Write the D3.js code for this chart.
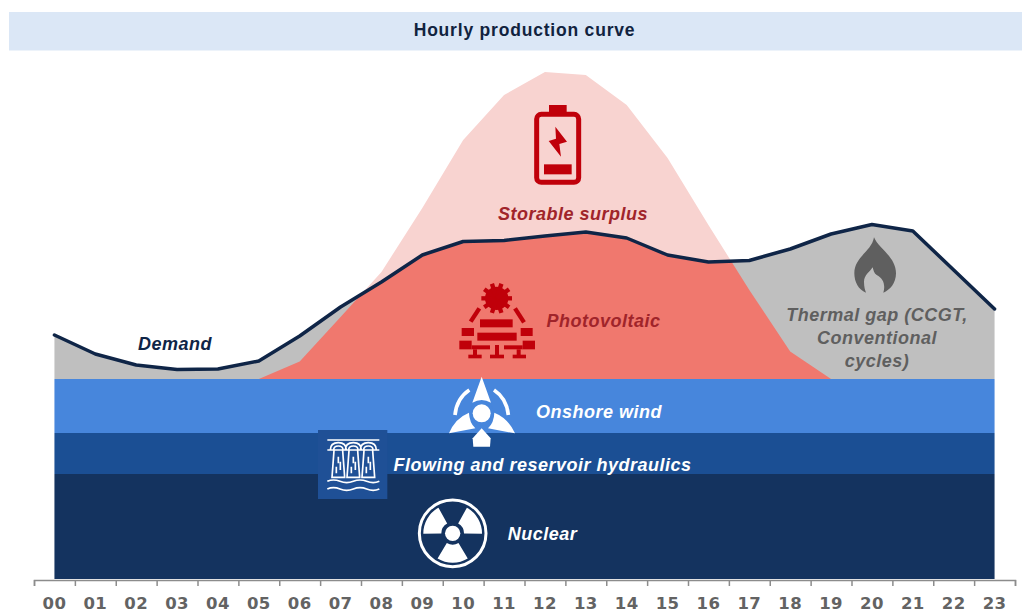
<!DOCTYPE html>
<html>
<head>
<meta charset="utf-8">
<title>Hourly production curve</title>
<script src="https://cdn.jsdelivr.net/npm/d3@7"></script>
<style>
  html, body { margin: 0; padding: 0; background: #fff; }
  svg { display: block; }
  text { font-family: "Liberation Sans", Arial, sans-serif; }
  .label { font-weight: bold; font-style: italic; font-size: 18px; letter-spacing: .5px; }
  .x-labels text { font-family: "DejaVu Sans", sans-serif; font-weight: bold; font-size: 16.5px; fill: #636363; letter-spacing: .4px; }
  .x-labels path, .x-labels line { display: none; }
  .x-ticks path, .x-ticks line { stroke: #8c8c8c; stroke-width: 1.5px; }
</style>
</head>
<body>
<div id="chart"></div>
<script>
// hours on the axis
var hours = ["00","01","02","03","04","05","06","07","08","09","10","11",
             "12","13","14","15","16","17","18","19","20","21","22","23"];

// flat baseload bands (GW)
var nuclear = 10.5;
var hydro = 4.1;
var wind = 5.4;

// hourly demand (GW)
var demand = [24.4, 22.5, 21.4, 20.95, 21.0, 21.8, 24.3, 27.2, 29.7, 32.4, 33.75, 33.85,
              34.3, 34.7, 34.1, 32.4, 31.7, 31.85, 33.0, 34.5, 35.45, 34.8, 30.9, 27.0];

// hourly photovoltaic production, on top of the bands (GW)
var solar = [0, 0, 0, 0, 0, 0, 1.75, 6.2, 10.7, 17.1, 23.9, 28.4,
             30.7, 30.4, 27.4, 22.1, 15.4, 8.9, 2.75, 0, 0, 0, 0, 0];

var width = 1022, height = 613;

var svg = d3.select("#chart").append("svg")
    .attr("width", width)
    .attr("height", height);

// Scales
var x = d3.scaleBand().domain(hours).range([34, 1015]);
var edges = d3.scaleLinear().domain([0, 24]).range([34, 1015]);
var y = d3.scaleLinear().domain([0, 51]).range([579, 69]);

function cx(h) { return x(h) + x.bandwidth() / 2; }

var base = nuclear + hydro + wind;

// Header
svg.append("rect")
    .attr("x", 9).attr("y", 12)
    .attr("width", 1013).attr("height", 38.5)
    .attr("fill", "#dbe7f6");

svg.append("text")
    .attr("x", 524.5).attr("y", 36)
    .attr("text-anchor", "middle")
    .attr("font-weight", "bold")
    .attr("font-size", "17.5px")
    .attr("letter-spacing", ".8px")
    .attr("fill", "#11233f")
    .text("Hourly production curve");

// Demand and solar shapes
var demandArea = d3.area()
    .x(function(d, i) { return cx(hours[i]); })
    .y0(y(base))
    .y1(function(d) { return y(d); });

var solarArea = d3.area()
    .x(function(d, i) { return cx(hours[i]); })
    .y0(y(base))
    .y1(function(d) { return y(base + d); });

var demandLine = d3.line()
    .x(function(d, i) { return cx(hours[i]); })
    .y(function(d) { return y(d); });

// red part is solar cut off at the demand curve
svg.append("defs").append("clipPath")
    .attr("id", "clip-demand")
    .append("path")
    .attr("d", demandArea(demand));

svg.append("path").attr("d", solarArea(solar)).attr("fill", "#f8d3d0");
svg.append("path").attr("d", demandArea(demand)).attr("fill", "#bfbfbf");
svg.append("path").attr("d", solarArea(solar)).attr("fill", "#f0786e")
    .attr("clip-path", "url(#clip-demand)");

// Baseload bands
var bands = [
    { from: base - wind, to: base, color: "#4786dc" },
    { from: nuclear, to: nuclear + hydro, color: "#1b4f94" },
    { from: 0, to: nuclear, color: "#14335f" }
];

svg.selectAll(".band")
    .data(bands)
    .enter().append("rect")
    .attr("class", "band")
    .attr("x", cx(hours[0]))
    .attr("width", cx(hours[23]) - cx(hours[0]))
    .attr("y", function(d) { return y(d.to); })
    .attr("height", function(d) { return y(d.from) - y(d.to); })
    .attr("fill", function(d) { return d.color; });

svg.append("path")
    .attr("d", demandLine(demand))
    .attr("fill", "none")
    .attr("stroke", "#0f2547")
    .attr("stroke-width", 3.5)
    .attr("stroke-linejoin", "round")
    .attr("stroke-linecap", "round");

// Axes: ticks sit between the hours, labels in the middle
svg.append("g")
    .attr("class", "x-ticks")
    .attr("transform", "translate(0,580)")
    .call(d3.axisBottom(edges).ticks(24).tickSize(6).tickSizeOuter(6).tickFormat(""));

svg.append("g")
    .attr("class", "x-labels")
    .attr("transform", "translate(0,597)")
    .call(d3.axisBottom(x).tickSize(0).tickPadding(0));

// Labels
var labels = [
    { text: "Demand", x: 175, y: 350, color: "#0f2547" },
    { text: "Storable surplus", x: 573, y: 220, color: "#a0242a" },
    { text: "Photovoltaic", x: 603.5, y: 327, color: "#a0242a" },
    { text: "Onshore wind", x: 599, y: 418, color: "#fff" },
    { text: "Flowing and reservoir hydraulics", x: 542.5, y: 471, color: "#fff" },
    { text: "Nuclear", x: 542.5, y: 540, color: "#fff" },
    { text: "Thermal gap (CCGT,", x: 877, y: 321, color: "#5f5f5f" },
    { text: "Conventional", x: 877, y: 344, color: "#5f5f5f" },
    { text: "cycles)", x: 877, y: 367, color: "#5f5f5f" }
];

svg.selectAll(".label")
    .data(labels)
    .enter().append("text")
    .attr("class", "label")
    .attr("text-anchor", "middle")
    .attr("x", function(d) { return d.x; })
    .attr("y", function(d) { return d.y; })
    .attr("fill", function(d) { return d.color; })
    .text(function(d) { return d.text; });

// Icons, drawn at 3x and scaled down
function icon(ox, oy) {
    return svg.append("g").attr("transform", "translate(" + ox + "," + oy + ") scale(" + (1 / 3) + ")");
}

function boxes(g, list, color) {
    list.forEach(function(b) {
        g.append("rect")
            .attr("x", b[0]).attr("y", b[1])
            .attr("width", b[2] - b[0]).attr("height", b[3] - b[1])
            .attr("fill", color);
    });
}

// battery
var red = "#c0000a";
var bat = icon(480, 60);
bat.append("rect")
    .attr("x", 170).attr("y", 163).attr("width", 126).attr("height", 204).attr("rx", 14)
    .attr("fill", "none").attr("stroke", red).attr("stroke-width", 15);
boxes(bat, [[207, 135, 260, 160], [192, 313, 275, 343]], red);
bat.append("path")
    .attr("d", "M226,200 L261,245 L238,252 L243,290 L206,243 L228,236 Z")
    .attr("fill", red);

// solar panel
var pv = icon(400, 270);
pv.append("circle").attr("cx", 290).attr("cy", 85).attr("r", 35).attr("fill", red);
d3.range(10).forEach(function(i) {
    var a = i * Math.PI / 5;
    pv.append("line")
        .attr("x1", 290).attr("y1", 85)
        .attr("x2", 290 + 46 * Math.cos(a)).attr("y2", 85 + 46 * Math.sin(a))
        .attr("stroke", red).attr("stroke-width", 13);
});
pv.append("line").attr("x1", 238).attr("y1", 115).attr("x2", 212).attr("y2", 155)
    .attr("stroke", red).attr("stroke-width", 13);
pv.append("line").attr("x1", 345).attr("y1", 115).attr("x2", 372).attr("y2", 157)
    .attr("stroke", red).attr("stroke-width", 13);
boxes(pv, [
    [240, 148, 338, 172], [232, 188, 350, 212],
    [185, 174, 222, 198], [362, 174, 398, 198],
    [178, 212, 215, 238], [368, 212, 405, 238],
    [215, 226, 270, 238], [312, 226, 368, 238],
    [219, 238, 231, 256], [285, 225, 297, 256], [350, 238, 362, 256],
    [205, 254, 245, 265], [270, 254, 312, 265], [338, 254, 378, 265]
], red);

// wind turbine
var tur = icon(400, 270);
[
    "M245,320 L273,398 Q245,382 217,398 Z",
    "M147,490 Q165,445 207,428 Q208,458 226,475 Z",
    "M345,490 Q325,445 283,428 Q282,458 264,475 Z",
    "M245,475 L272,505 L270,530 L220,530 L218,505 Z"
].forEach(function(p) { tur.append("path").attr("d", p).attr("fill", "#fff"); });
tur.append("circle").attr("cx", 245).attr("cy", 430).attr("r", 36).attr("fill", "#4786dc");
tur.append("circle").attr("cx", 245).attr("cy", 430).attr("r", 27).attr("fill", "#fff");
tur.append("path").attr("d", "M165,435 Q170,385 208,360")
    .attr("fill", "none").attr("stroke", "#fff").attr("stroke-width", 11);
tur.append("path").attr("d", "M325,435 Q320,385 282,360")
    .attr("fill", "none").attr("stroke", "#fff").attr("stroke-width", 11);

// nuclear
var nuc = icon(400, 270).append("g").attr("transform", "translate(158,790)");
nuc.append("circle").attr("r", 100)
    .attr("fill", "none").attr("stroke", "#fff").attr("stroke-width", 9);
nuc.append("circle").attr("r", 23).attr("fill", "#fff");
var blade = d3.arc().innerRadius(34).outerRadius(88);
[-60, 60, 180].forEach(function(a) {
    nuc.append("path")
        .attr("d", blade({ startAngle: (a - 31) * Math.PI / 180, endAngle: (a + 31) * Math.PI / 180 }))
        .attr("fill", "#fff");
});

// flame
icon(720, 210).append("path")
    .attr("d", "M462,82 C475,115 528,140 528,190 C528,220 510,240 490,248 C497,225 490,205 470,195 C462,190 460,180 458,172 C450,185 432,195 432,215 C432,230 435,240 438,248 C415,240 403,215 403,190 C403,140 455,125 462,82 Z")
    .attr("fill", "#5f5f5f");

// dam on its own square
var dam = icon(300, 420);
dam.append("rect").attr("x", 54).attr("y", 30).attr("width", 208).attr("height", 207).attr("fill", "#1f5096");
var damLine = "M82,60 H238 M82,90 H238";
[115, 160, 205].forEach(function(c) {
    damLine += " M" + (c - 24) + ",90 Q" + (c - 24) + ",68 " + c + ",68 Q" + (c + 24) + ",68 " + (c + 24) + ",90";
    damLine += " M" + (c - 14) + ",90 Q" + (c - 14) + ",78 " + c + ",78 Q" + (c + 14) + ",78 " + (c + 14) + ",90";
    damLine += " M" + (c - 13) + ",92 L" + (c - 19) + ",172 H" + (c + 19) + " L" + (c + 13) + ",92";
    damLine += " M" + c + ",110 V130 M" + (c - 6) + ",140 V160 M" + (c + 6) + ",125 V150";
});
damLine += " M82,184 Q100,176 120,184 T160,184 T200,184 T238,184";
damLine += " M82,207 Q100,199 120,207 T160,207 T200,207 T238,207";
dam.append("path").attr("d", damLine)
    .attr("fill", "none").attr("stroke", "#fff").attr("stroke-width", 5);
</script>
</body>
</html>
